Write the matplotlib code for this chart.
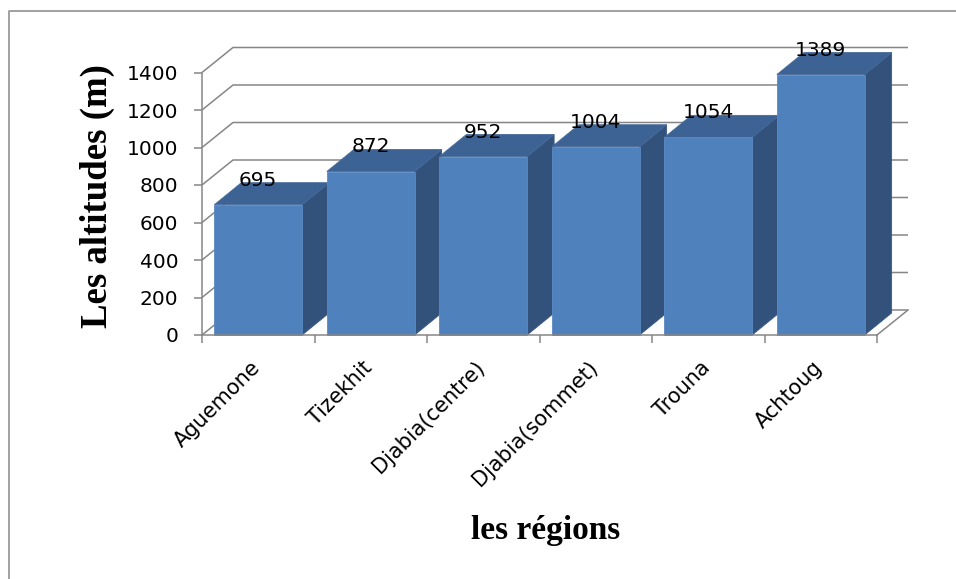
import matplotlib
matplotlib.use('Agg')
import matplotlib.pyplot as plt
import matplotlib.transforms as mtransforms
from matplotlib.patches import Polygon

regions = ['Aguemone', 'Tizekhit', 'Djabia(centre)', 'Djabia(sommet)', 'Trouna', 'Achtoug']
altitudes = [695, 872, 952, 1004, 1054, 1389]
y_ticks = [0, 200, 400, 600, 800, 1000, 1200, 1400]

W, H = 956, 579
fig = plt.figure(figsize=(W / 100, H / 100), dpi=100)

# pixel geometry of the front plane
x0_px, y0_px = 202, 335          # front-left corner (value 0, x=-0.5)
px_cat = 112.5                   # pixels per category
px_val = 37.5 / 200              # pixels per unit of altitude
left_px, right_px, top_px, bot_px = 190, 925, 28, 345

ax = fig.add_axes([left_px / W, 1 - bot_px / H, (right_px - left_px) / W, (bot_px - top_px) / H])
ax.set_xlim(-0.5 - (x0_px - left_px) / px_cat, -0.5 + (right_px - x0_px) / px_cat)
ax.set_ylim(-(bot_px - y0_px) / px_val, (y0_px - top_px) / px_val)

# depth offsets (in data units)
wall_dx, wall_dy = 31 / px_cat, 25 / px_val
bar_dx, bar_dy = 27 / px_cat, 22 / px_val
half_w = 0.39
n = len(regions)
grid_c = '#868686'

# back wall gridlines + left wall diagonals
for t in y_ticks:
    ax.plot([-0.5, -0.5 + wall_dx, n - 0.5 + wall_dx], [t, t + wall_dy, t + wall_dy],
            color=grid_c, lw=1.1, zorder=1, solid_capstyle='butt')

# floor right edge
ax.plot([n - 0.5, n - 0.5 + wall_dx], [0, wall_dy], color=grid_c, lw=1.1, zorder=1)

# 3D bars
for i, v in enumerate(altitudes):
    xl, xr = i - half_w, i + half_w
    front = Polygon([(xl, 0), (xr, 0), (xr, v), (xl, v)], closed=True,
                    facecolor='#4F81BD', edgecolor='#5B8AC4', lw=0.6, zorder=3)
    top = Polygon([(xl, v), (xr, v), (xr + bar_dx, v + bar_dy), (xl + bar_dx, v + bar_dy)],
                  closed=True, facecolor='#3D6394', edgecolor='#46699A', lw=0.6, zorder=3)
    side = Polygon([(xr, 0), (xr + bar_dx, bar_dy), (xr + bar_dx, v + bar_dy), (xr, v)],
                   closed=True, facecolor='#32527B', edgecolor='#3A5A84', lw=0.6, zorder=3)
    ax.add_patch(side)
    ax.add_patch(top)
    ax.add_patch(front)

# data labels
lab_tr = mtransforms.offset_copy(ax.transData, fig=fig, x=0, y=-3, units='dots')
for i, v in enumerate(altitudes):
    ax.text(i, v + bar_dy, str(v), ha='center', va='baseline', fontsize=14.5,
            family='DejaVu Sans', transform=lab_tr, zorder=5)

# axes (ticks and labels)
ax.spines['top'].set_visible(False)
ax.spines['right'].set_visible(False)
ax.spines['left'].set_position(('data', -0.5))
ax.spines['left'].set_bounds(0, y_ticks[-1])
ax.spines['bottom'].set_position(('data', 0))
ax.spines['bottom'].set_bounds(-0.5, n - 0.5)
for s in ['left', 'bottom']:
    ax.spines[s].set_color(grid_c)
    ax.spines[s].set_linewidth(1.1)
    ax.spines[s].set_zorder(4)
ax.set_yticks(y_ticks)
ax.set_yticklabels([str(t) for t in y_ticks], family='DejaVu Sans', fontsize=14.5)
ax.tick_params(axis='y', direction='out', length=6, width=1.1, color=grid_c, pad=11)
ax.set_xticks(range(n))
ax.set_xticklabels(regions, rotation=45, ha='right', va='top', rotation_mode='anchor',
                   family='DejaVu Sans', fontsize=15)
ax.set_xticks([i - 0.5 for i in range(n + 1)], minor=True)
ax.tick_params(axis='x', which='major', length=0, pad=16)
ax.tick_params(axis='x', which='minor', direction='out', length=6, width=1.1, color=grid_c)
shift = mtransforms.ScaledTranslation(-6 / 72, 0, fig.dpi_scale_trans)
for lab in ax.get_xticklabels():
    lab.set_transform(lab.get_transform() + shift)
ax.patch.set_alpha(0)

fig.text(97 / W, 1 - 196 / H, 'Les altitudes (m)', rotation=90, ha='center', va='center',
         family='Liberation Serif', fontweight='bold', fontsize=26.5)
fig.text(546 / W, 1 - 531 / H, 'les régions', ha='center', va='center',
         family='Liberation Serif', fontweight='bold', fontsize=24)

# chart border (top and left visible)
fig.add_artist(plt.Line2D([9 / W, 9 / W, 1], [0, 1 - 11 / H, 1 - 11 / H],
                          transform=fig.transFigure, color='#9a9a9a', lw=1.3))

fig.savefig('out.png', dpi=100)
